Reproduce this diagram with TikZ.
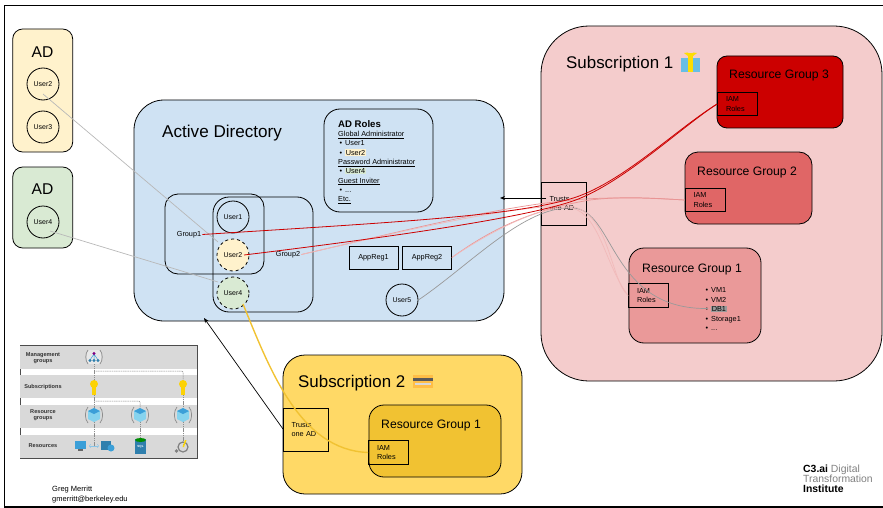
\documentclass[tikz,border=0pt]{standalone}
\usepackage{fontspec}
\setmainfont{Liberation Sans}
\usetikzlibrary{arrows.meta}
\definecolor{adyellow}{HTML}{FFF2CC}
\definecolor{adgreen}{HTML}{D9EAD3}
\definecolor{adblue}{HTML}{CFE2F3}
\definecolor{subred}{HTML}{F4CCCC}
\definecolor{subgold}{HTML}{FFD966}
\definecolor{rgone}{HTML}{EA9999}
\definecolor{rgtwo}{HTML}{E06666}
\definecolor{rgthree}{HTML}{CC0000}
\definecolor{rggold}{HTML}{F1C232}
\definecolor{band}{HTML}{D9D9D9}
\definecolor{iconblue}{HTML}{3B9FD8}
\definecolor{iconlight}{HTML}{86D3EE}
\newcommand{\itm}[1]{\makebox[7pt][l]{\hspace{1.5pt}\textbullet}#1}
\newcommand{\hl}[2]{\smash{\setlength{\fboxsep}{0.6pt}\colorbox{#1}{#2}}}
\tikzstyle{panel}=[draw,rounded corners=#1,inner sep=0pt,line width=0.8pt]
\tikzstyle{user}=[circle,draw,minimum size=32pt,inner sep=0pt,line width=0.8pt,font=\fontsize{7}{9}\selectfont]
\tikzstyle{small}=[inner sep=1pt,font=\fontsize{7.3}{9.6}\selectfont]
\tikzstyle{heading}=[anchor=west,inner sep=0pt]
\tikzstyle{iam}=[draw,inner ysep=0pt,inner xsep=8.5pt,text width=23pt,minimum height=23.5pt,align=left,line width=0.8pt,font=\fontsize{7.3}{9.6}\selectfont]
\tikzstyle{trust}=[draw,inner ysep=0pt,inner xsep=8.5pt,text width=28pt,minimum height=43pt,align=left,line width=0.8pt,font=\fontsize{7.3}{9.6}\selectfont]
\tikzstyle{appreg}=[draw,minimum width=49pt,minimum height=23pt,inner sep=0pt,line width=0.8pt,font=\fontsize{7.3}{9}\selectfont]
\tikzstyle{link}=[line width=0.7pt,black!28]
\tikzstyle{linkdark}=[line width=0.8pt,rgthree]
\tikzstyle{linkpale}=[line width=0.7pt,rgtwo!70]
\tikzstyle{trustarrow}=[line width=0.7pt,black,-{Stealth[length=5pt,width=4pt]}]
\tikzstyle{insetline}=[line width=0.5pt,black!45,dash pattern=on 1.2pt off 0.6pt]
\tikzstyle{insetlabel}=[inner sep=0pt,align=center,text=black!80,font=\bfseries\fontsize{5.6}{6.4}\selectfont]
\begin{document}
\begin{tikzpicture}[x=1pt,y=-1pt]
    \useasboundingbox (0,0) rectangle (883,508);
    % cadre
    \draw[line width=1.4pt] (883,5.7) -- (4.5,5.7) -- (4.5,507) -- (883,507);
    % left directories
    \node[panel=10pt,fill=adyellow,minimum width=60pt,minimum height=123pt] (adleft) at (42.7,90.5) {};
    \node[panel=10pt,fill=adgreen,minimum width=60pt,minimum height=81pt] (adright) at (42.7,207.5) {};
    \node[inner sep=0pt,font=\fontsize{15.6}{18}\selectfont] (adtitlea) at (42.5,52) {AD};
    \node[inner sep=0pt,font=\fontsize{15.6}{18}\selectfont] (adtitleb) at (42.5,189) {AD};
    \foreach \pos/\name/\txt in {{(43,84)/aduser2/User2}, {(43,127)/aduser3/User3}, {(43,222)/aduser4/User4}}
        \node[user] (\name) at \pos {\txt};
    % active directory
    \node[panel=30pt,fill=adblue,minimum width=370pt,minimum height=221pt] (activedir) at (319,210.5) {};
    \node[heading,font=\fontsize{17.1}{20}\selectfont] (adtitle) at (162,133) {Active Directory};
    \node[panel=16pt,minimum width=109pt,minimum height=103pt] (rolesbox) at (378.5,160.5) {};
    \node[heading,align=left,font=\fontsize{7.3}{9.35}\selectfont] (roles) at (338,162) {{\bfseries\fontsize{9.6}{9.35}\selectfont AD Roles}\\
        \underline{Global Administrator}\\
        \itm{User1}\\
        \itm{\hl{adyellow}{User2}}\\
        \underline{Password Administrator}\\
        \itm{\hl{adgreen}{User4}}\\
        \underline{Guest Inviter}\\
        \itm{...}\\
        \underline{Etc.}};
    \node[panel=13pt,minimum width=99pt,minimum height=80pt] (groupa) at (214.5,234) {};
    \node[panel=16pt,minimum width=100pt,minimum height=115pt] (groupb) at (263,254.5) {};
    \node[small] (groupalabel) at (189,234.5) {Group1};
    \node[small] (groupblabel) at (288,254.5) {Group2};
    \node[user] (user1) at (233,217) {User1};
    \node[user,dashed,fill=adyellow] (user2) at (233,255) {User2};
    \node[user,dashed,fill=adgreen] (user4) at (233,293) {User4};
    \node[user] (user5) at (402,300) {User5};
    \node[appreg] (appreg1) at (373.5,257.5) {AppReg1};
    \node[appreg] (appreg2) at (427,257.5) {AppReg2};
    % subscription 1
    \node[panel=48pt,fill=subred,minimum width=341pt,minimum height=355pt] (subone) at (711.5,203.5) {};
    \node[heading,font=\fontsize{16.9}{20}\selectfont] (subonetitle) at (566,64) {Subscription 1};
    \fill[iconlight!60!iconblue] (681,58) rectangle (700,72);
    \fill[yellow!80!orange] (688,53) -- (693,53) -- (693,72) -- (688,72) -- cycle;
    \fill[yellow!80!orange] (690.5,58) -- (684,53) -- (688,52.5) -- cycle (690.5,58) -- (697,53) -- (693,52.5) -- cycle;
    \node[panel=10pt,fill=rgthree,minimum width=126pt,minimum height=72pt] (rgc) at (780,92) {};
    \node[panel=13pt,fill=rgtwo,minimum width=127pt,minimum height=72pt] (rgb) at (748.5,188) {};
    \node[panel=15pt,fill=rgone,minimum width=132pt,minimum height=95pt] (rga) at (695,295.5) {};
    \foreach \pos/\name/\txt in {{(729,76)/rgctitle/Resource Group 3}, {(697,173)/rgbtitle/Resource Group 2}, {(642,270)/rgatitle/Resource Group 1}}
        \node[heading,font=\fontsize{12.2}{14}\selectfont] (\name) at \pos {\txt};
    \foreach \pos/\name in {{(737.5,104)/iamc}, {(705,200)/iamb}, {(648.5,295.5)/iama}}
        \node[iam] (\name) at \pos {IAM\\Roles};
    \node[trust] (trustsa) at (563.5,203.5) {Trusts\\one AD};
    \node[heading,align=left,font=\fontsize{7.3}{9.5}\selectfont] (rglist) at (704,309) {\itm{VM1}\\\itm{VM2}\\\itm{\hl{black!40}{DB1}}\\\itm{Storage1}\\\itm{...}};
    \coordinate (dbone) at (708,308.5);
    % subscription 2
    \node[panel=22pt,fill=subgold,minimum width=239pt,minimum height=139pt] (subtwo) at (402.5,424.5) {};
    \node[heading,font=\fontsize{16.9}{20}\selectfont] (subtwotitle) at (298,383) {Subscription 2};
    \fill[subgold!70!orange] (413,375) rectangle (433,388);
    \fill[black!65] (413,378) rectangle (433,381);
    \fill[white!85!black] (415,383) rectangle (431,385);
    \node[panel=15pt,fill=rggold,minimum width=132pt,minimum height=72pt] (rgd) at (435,441) {};
    \node[heading,font=\fontsize{12.2}{14}\selectfont] (rgdtitle) at (381,426) {Resource Group 1};
    \node[iam] (iamd) at (388.5,452.5) {IAM\\Roles};
    \node[trust] (trustsb) at (305.5,429.5) {Trusts\\one AD};
    % liens
    \draw[link] ([yshift=-10pt]aduser2.center) -- ([shift={(-15pt,13pt)}]user2.center);
    \draw[link] ([shift={(7pt,-9pt)}]aduser4.center) -- ([shift={(-15pt,11pt)}]user4.center);
    \draw[line width=0.7pt,black!40] (user5.east) .. controls (470,265) and (525,205) .. (573,208) .. controls (615,210) and (610,310) .. (dbone);
    \draw[linkpale] (groupblabel.east) .. controls (400,232) and (500,205) .. (585,199) .. controls (620,197) and (650,198) .. (iamb.west);
    \draw[linkpale] (appreg2.east) .. controls (490,230) and (530,210) .. (590,200) .. controls (625,196) and (650,198) .. (iamb.west);
    \draw[rgtwo!45,line width=0.7pt] (appreg2.east) .. controls (490,232) and (540,205) .. (572,208) .. controls (600,215) and (605,265) .. (iama.west);
    \draw[rgtwo!45,line width=0.7pt] (groupblabel.east) .. controls (400,232) and (510,205) .. (570,206) .. controls (610,212) and (610,280) .. (iama.west);
    \draw[linkdark] (groupalabel.east) .. controls (400,222) and (510,216) .. (570,199) .. controls (620,185) and (675,130) .. (iamc.west);
    \draw[linkdark] ([xshift=11pt]user2.center) .. controls (400,236) and (520,218) .. (570,202) .. controls (620,186) and (680,128) .. (iamc.west);
    \draw[line width=1.4pt,rggold] ([shift={(10pt,-11pt)}]user4.center) .. controls (270,370) and (300,450) .. (iamd.west);
    \coordinate (arrowa) at (546,198);
    \coordinate (arrowb) at (500,198);
    \coordinate (arrowc) at (283,429);
    \coordinate (arrowd) at (204,318);
    \draw[trustarrow] (arrowa) -- (arrowb);
    \draw[trustarrow] (arrowc) -- (arrowd);
    % encart
    \node[fill=white,draw=black!70,line width=0.9pt,minimum width=177pt,minimum height=113pt,inner sep=0pt] (inset) at (108.5,401.5) {};
    \foreach \ya/\yb in {345.5/369, 375/398, 405/428, 435/457.5}
        \fill[band] (20,\ya) rectangle (197,\yb);
    \foreach \pos/\name/\txt in {{(43,358)/lblmgmt/Management\\groups}, {(43,387)/lblsub/Subscriptions}, {(43,415)/lblrg/Resource\\groups}, {(43,446)/lblres/Resources}}
        \node[insetlabel] (\name) at \pos {\txt};
    \foreach \x/\y/\name in {94/357/mgmt, 94/388/keya, 183/388/keyb, 94/415/cubea, 140/415/cubeb, 183/415/cubec, 94/446/resa, 140/446/resb, 183/446/resc, 183/371/bendb, 140/401/benda, 94/371/forkb, 94/401/forka}
        \coordinate (\name) at (\x,\y);
    \draw[insetline] (mgmt) -- (keya) -- (cubea) -- (resa);
    \draw[insetline] (keyb) -- (cubec) -- (resc);
    \draw[insetline] (cubeb) -- (resb);
    \draw[insetline,rounded corners=1pt] (forkb) -- (bendb) -- (keyb);
    \draw[insetline,rounded corners=1pt] (forka) -- (benda) -- (cubeb);
    \foreach \x in {94,183}{
        \begin{scope}[shift={(\x,388)}]
            \fill[yellow!70!orange] (0,-4) circle (4);
            \fill[yellow!70!orange] (-1.6,-1) rectangle (1.6,7);
        \end{scope}
    }
    \foreach \x in {94,140,183}{
        \begin{scope}[shift={(\x,415)}]
            \fill[iconlight] (0,-7) -- (6,-4) -- (6,4) -- (0,7) -- (-6,4) -- (-6,-4) -- cycle;
            \fill[iconblue] (0,-7) -- (6,-4) -- (0,-1) -- (-6,-4) -- cycle;
            \draw[black!45,line width=0.7pt] (-6,-8) .. controls (-9.5,-4) and (-9.5,4) .. (-6,8);
            \draw[black!45,line width=0.7pt] (6,-8) .. controls (9.5,-4) and (9.5,4) .. (6,8);
        \end{scope}
    }
    \begin{scope}[shift={(94,357)}]
        \fill[white!40!band] (-7,-7) rectangle (7,7);
        \draw[black!45,line width=0.7pt] (-6,-7) .. controls (-9,-3) and (-9,3) .. (-6,7);
        \draw[black!45,line width=0.7pt] (6,-7) .. controls (9,-3) and (9,3) .. (6,7);
        \draw[iconblue,line width=0.5pt] (0,-3) -- (-4,3) (0,-3) -- (4,3) (0,-3) -- (0,3);
        \fill[violet] (0,-3.5) circle (1.6);
        \foreach \dx in {-4,0,4}
            \fill[iconblue!80!black] (\dx,3.5) circle (1.6);
    \end{scope}
    % icones du bas
    \fill[iconblue] (74.5,441) rectangle (86,449);
    \fill[black!60] (78,449) rectangle (83,451);
    \draw[iconblue!60,line width=0.5pt,<->,>=to] (89,446) -- (99,446);
    \fill[iconblue!80!black] (101,441) rectangle (111,450);
    \fill[iconblue] (111,448) circle (3.5);
    \fill[iconblue!80!black] (135,439) rectangle (146,454);
    \fill[green!55!black] (140.5,440) ellipse (5.5 and 2);
    \node[inner sep=0pt,text=white,font=\bfseries\fontsize{3}{3}\selectfont] (sqlicon) at (140.5,447) {SQL};
    \draw[black!50,line width=1.2pt] (183,447) circle (5);
    \fill[black!50] (176.5,451) circle (1.8);
    \fill[yellow!75!orange] (185,440) -- (186.5,440) -- (184,447) -- (182.5,447) -- cycle;
    % texte
    \node[heading,align=left,font=\fontsize{7.5}{9.8}\selectfont] (credit) at (52,494.5) {Greg Merritt\\gmerritt@berkeley.edu};
    \node[heading,align=left,font=\fontsize{10.4}{10}\selectfont] (logo) at (803,478.5) {{\bfseries C3.ai} \textcolor{black!50}{Digital}\\\textcolor{black!50}{Transformation}\\{\bfseries Institute}};
\end{tikzpicture}
\end{document}
